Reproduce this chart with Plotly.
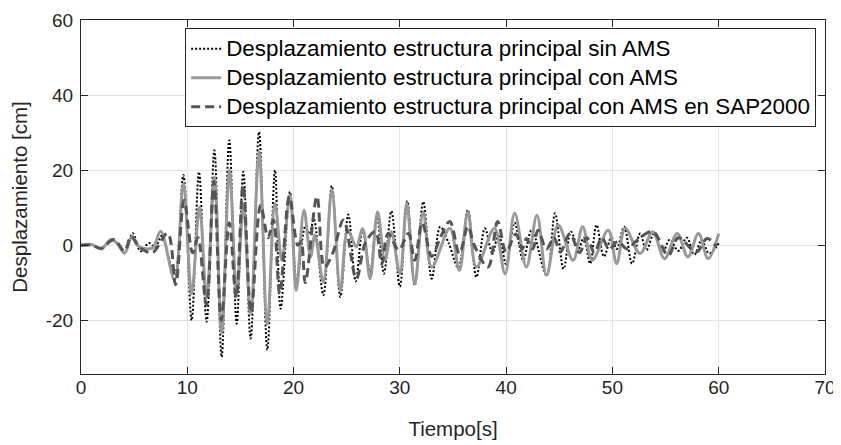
import plotly.graph_objects as go

# ---- data (extrema) ----
t_sin = [0, 1.0, 1.9, 2.8, 3.5, 4.1, 4.86, 5.6, 6.4, 7.0, 7.6, 8.8, 9.63, 10.41, 11.1, 11.82,
         12.55, 13.23, 13.95, 14.65, 15.27, 15.96, 16.75, 17.53, 18.25, 18.78, 19.66, 20.3,
         21.1, 21.5, 21.9, 22.8, 23.6, 24.4, 25.15, 25.85, 26.5, 27.2, 27.85, 28.5, 29.2, 30.0,
         30.7, 31.4, 32.2, 33.0, 33.8, 34.6, 35.5, 36.4, 37.2, 38.0, 38.7, 39.3, 40.0, 40.8,
         41.6, 42.4, 43.8, 44.6, 45.4, 46.1, 46.8, 47.3, 47.9, 48.5, 49.2, 49.9, 50.4, 51.1,
         51.85, 52.6, 53.2, 53.9, 54.7, 55.4, 56.2, 57.0, 57.7, 58.4, 59.1, 60.0]
d_sin = [0, 0.2, -1, 1.5, 0.3, -2, 3.2, -1.6, 0.6, -0.5, 2.5, -8, 18.7, -20, 19.5, -20.4,
         25.3, -29.8, 28, -20.9, 19.6, -24.9, 30.2, -27.9, 20, -16.9, 14.2, -10,
         5, 3, 7, -13.3, 15.8, -13.8, 8.2, -9.6, 4.2, -7, 7.5, -7.6, 9.1, -11,
         11.8, -10.7, 11.6, -8.9, 4.9, 0.5, -6, 9.4, -8.5, 4.5, -2, 3, -5, 6,
         -4, 4, -8, 8.5, -6.3, 3.6, -1, 2, -4.9, 5.4, -3, 2, -1, 4.9,
         -4.9, 3.1, -1.3, 3, -2, 1.5, -1.5, 2, -2.5, 1.3, -2.2, 0.5]

t_con = [0, 1.0, 1.9, 2.8, 3.4, 4.1, 4.8, 5.5, 6.3, 6.8, 7.5, 8.8, 9.63, 10.41, 11.15, 11.82,
         12.55, 13.23, 13.97, 14.65, 15.27, 15.96, 16.75, 17.53, 18.25, 18.9, 19.66, 20.25,
         20.98, 21.6, 22.0, 22.8, 23.6, 24.4, 25.1, 25.9, 26.5, 27.2, 27.9, 28.6, 29.2, 30.0,
         30.65, 31.4, 32.2, 33.0, 34.7, 35.6, 36.4, 37.2, 38.9, 39.9, 40.8, 41.9, 42.9, 43.8,
         44.9, 46.3, 47.2, 48.1, 49.6, 50.4, 51.2, 52.6, 53.8, 54.9, 56.1, 57.1, 58.1, 59.0, 60.0]
d_con = [0, 0.2, -1, 1.5, 0.5, -2.1, 2.3, -0.5, -1, -0.6, 3.7, -9.2, 16.4, -12.9, 10.2, -14,
         18.2, -23.5, 20, -13, 10.7, -18.2, 24.9, -20.9, 11.1, -4, 13.3, -12,
         9.3, -3.1, 2.7, -9.8, 14.7, -12, 4, -0.4, 4.4, -8.9, 8.9, -4, 3.6, -7.6,
         11.1, -10.3, 8.9, -5.8, 4.5, -6.7, 8.9, -5.8, 4.5, -7.6, 8.5, -5.8, 8, -8,
         5.4, -4, 4.9, -4, 4, -4.9, 4.5, -2.2, 3.6, -3.6, 3.1, -3.1, 3.1, -3.6, 3.1]

t_sap = [0, 1.0, 1.9, 3.1, 4.1, 4.7, 5.5, 6.7, 8.15, 8.9, 9.7, 10.5, 11.0, 11.8, 12.5, 13.2,
         13.95, 14.6, 15.25, 16.0, 16.9, 17.6, 18.1, 18.7, 19.6, 20.4, 20.7, 21.1, 22.2, 22.9,
         23.7, 24.7, 25.9, 26.8, 27.7, 28.3, 28.9, 29.9, 30.8, 31.4, 32.1, 33.0, 33.8, 34.7,
         35.6, 36.4, 37.0, 38.3, 39.2, 40.0, 40.9, 41.5, 41.9, 42.5, 43.0, 43.8, 44.5, 45.1,
         46.0, 46.9, 47.6, 48.3, 49.0, 49.7, 50.5, 51.4, 52.3, 53.8, 55.25, 56.2, 57.9, 58.9, 59.8]
d_sap = [0, 0, -0.8, 1.5, -1.6, 2.3, -0.5, -2, 3.2, -10.5, 12, -2, 2, -16, 17, -20,
         6, -14, 16, -18, 10.7, 2, 6.7, -12.9, 13, 0, 1, -10, 13, -5.8,
         -2, 6.7, -8.9, 1, 3.6, -5, 3.1, -1.3, 3.1, -4, 6, -3, 2, 6.3,
         -2.2, 5, 0, -5.8, 6.3, -1.8, 3, -1, 1.8, -1, 4, -1, 2, -1.8,
         3.1, -2, 2, -2, 2, -1, 1, -1, 1.3, 3.6, -2.7, 2, -1.8, 1.8, -0.4]

names = ["Desplazamiento estructura principal sin AMS",
         "Desplazamiento estructura principal con AMS",
         "Desplazamiento estructura principal con AMS en SAP2000"]
x_ticks = [0, 10, 20, 30, 40, 50, 60, 70]
y_ticks = [-20, 0, 20, 40, 60]

assert len(t_sin) == len(d_sin) and len(t_con) == len(d_con) and len(t_sap) == len(d_sap)

FONT = "Liberation Sans, Arial, sans-serif"


def legend_label(s):
    # glyph size for the legend text (row spacing is set by the legend font size)
    return '<span style="font-size:22.4px">' + s + '</span>'


fig = go.Figure()
fig.add_trace(go.Scatter(x=t_sin, y=d_sin, mode="lines", name=legend_label(names[0]),
                         line=dict(color="#000000", width=2, dash="2px,2px", shape="spline")))
fig.add_trace(go.Scatter(x=t_con, y=d_con, mode="lines", name=legend_label(names[1]),
                         line=dict(color="#999999", width=3, shape="spline")))
fig.add_trace(go.Scatter(x=t_sap, y=d_sap, mode="lines", name=legend_label(names[2]),
                         line=dict(color="#555555", width=3, dash="9px,5px", shape="spline")))

axis_common = dict(
    showline=True, linecolor="#262626", linewidth=1, mirror="ticks",
    ticks="inside", ticklen=7, tickcolor="#262626", tickwidth=1,
    showgrid=True, gridcolor="#e3e3e3", gridwidth=1, zeroline=False,
    automargin=False,
    tickfont=dict(family=FONT, size=19, color="#262626"),
)

# page body has an 8px margin: figure is 833x437, placed at (8,8)
fig.update_layout(
    width=833, height=437, autosize=False,
    margin=dict(l=73, r=16, t=12, b=71),
    paper_bgcolor="white", plot_bgcolor="white",
    font=dict(family=FONT, color="#262626"),
    xaxis=dict(range=[0, 70], tickvals=x_ticks, ticktext=[str(v) for v in x_ticks],
               ticklabelstandoff=-4,
               title=dict(text="Tiempo[s]", font=dict(size=20.5), standoff=24), **axis_common),
    yaxis=dict(range=[-34.3, 60], tickvals=y_ticks, ticktext=[str(v) for v in y_ticks],
               ticklabelstandoff=3,
               title=dict(text="Desplazamiento [cm]", font=dict(size=20.5), standoff=12), **axis_common),
    legend=dict(x=0.14, y=0.977, xanchor="left", yanchor="top",
                bgcolor="white", bordercolor="#262626", borderwidth=1,
                font=dict(family=FONT, size=20, color="#000000")),
    showlegend=True,
)

fig.write_html("out.html")
